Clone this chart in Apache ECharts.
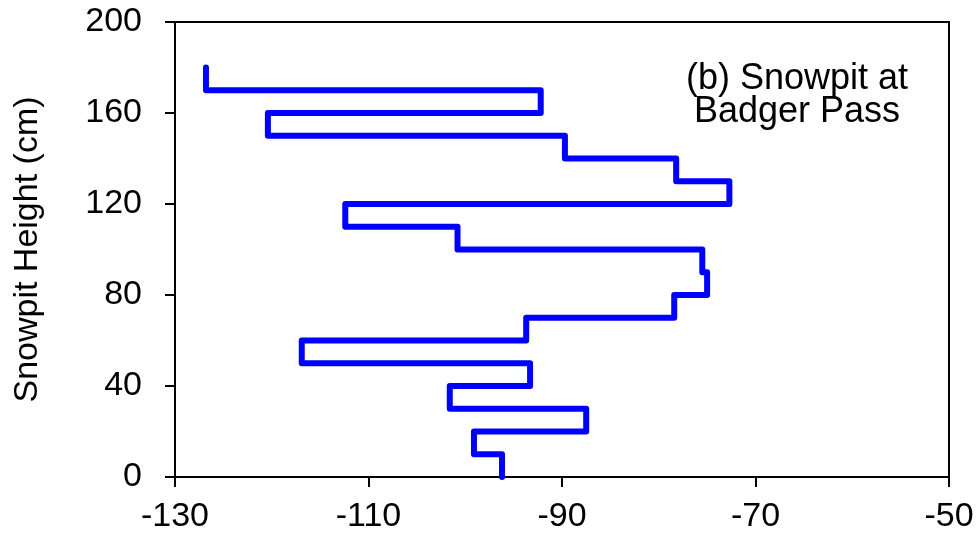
<!DOCTYPE html>
<html>
<head>
<meta charset="utf-8">
<script src="https://cdn.jsdelivr.net/npm/echarts@6/dist/echarts.min.js"></script>
<style>
html,body{margin:0;padding:0;background:#fff;}
#chart{width:978px;height:539px;}
</style>
</head>
<body>
<div id="chart"></div>
<script>
// Layer boundaries (cm) – bottom and top of each snow layer
const layerBottom = [0, 10, 20, 30, 40, 50, 60, 70, 80, 90, 100, 110, 120, 130, 140, 150, 160, 170];
const layerTop    = [10, 20, 30, 40, 50, 60, 70, 80, 90, 100, 110, 120, 130, 140, 150, 160, 170, 180];
// Value per layer
const layerValue  = [-96.2, -99.1, -87.5, -101.6, -93.3, -116.9, -93.7, -78.4, -75.0, -75.5,
                     -100.8, -112.4, -72.7, -78.2, -89.7, -120.4, -92.2, -126.8];
const xTicks = [-130, -110, -90, -70, -50];
const yTicks = [0, 40, 80, 120, 160, 200];

// step profile points: each layer is a vertical segment, joined by horizontal moves
const pts = [];
for (let i = 0; i < layerValue.length; i++) {
  pts.push([layerValue[i], layerBottom[i]]);
  pts.push([layerValue[i], layerTop[i]]);
}

const FONT = 'Liberation Sans, Arial, sans-serif';
const chart = echarts.init(document.getElementById('chart'), null, {renderer: 'canvas'});
chart.setOption({
  animation: false,
  backgroundColor: '#ffffff',
  grid: {left: 175, right: 29, top: 22, bottom: 62, containLabel: false, outerBoundsMode: 'none',
         show: true, borderColor: '#000', borderWidth: 2, backgroundColor: 'transparent'},
  xAxis: {
    type: 'value', min: xTicks[0], max: xTicks[xTicks.length - 1], interval: 20,
    splitLine: {show: false},
    axisLine: {show: true, onZero: false, lineStyle: {color: '#000', width: 2}},
    axisTick: {show: true, inside: false, length: 10, lineStyle: {color: '#000', width: 2}},
    axisLabel: {color: '#000', fontSize: 34, fontFamily: FONT, margin: 23, hideOverlap: false}
  },
  yAxis: {
    type: 'value', min: yTicks[0], max: yTicks[yTicks.length - 1], interval: 40,
    splitLine: {show: false},
    axisLine: {show: true, onZero: false, lineStyle: {color: '#000', width: 2}},
    axisTick: {show: true, inside: false, length: 10, lineStyle: {color: '#000', width: 2}},
    axisLabel: {color: '#000', fontSize: 34, fontFamily: FONT, margin: 33},
    name: 'Snowpit Height (cm)', nameLocation: 'middle', nameGap: 130, nameRotate: 90,
    nameTextStyle: {color: '#000', fontSize: 34, fontFamily: FONT}
  },
  series: [{
    type: 'line',
    data: pts,
    showSymbol: false,
    symbol: 'none',
    lineStyle: {color: '#0000ff', width: 6, cap: 'round', join: 'round'}
  }],
  graphic: [{
    type: 'text',
    x: 797, y: 63,
    style: {
      text: '(b) Snowpit at\nBadger Pass',
      font: '36px ' + FONT,
      fill: '#000',
      align: 'center',
      textAlign: 'center',
      lineHeight: 33
    }
  }]
});
</script>
</body>
</html>
